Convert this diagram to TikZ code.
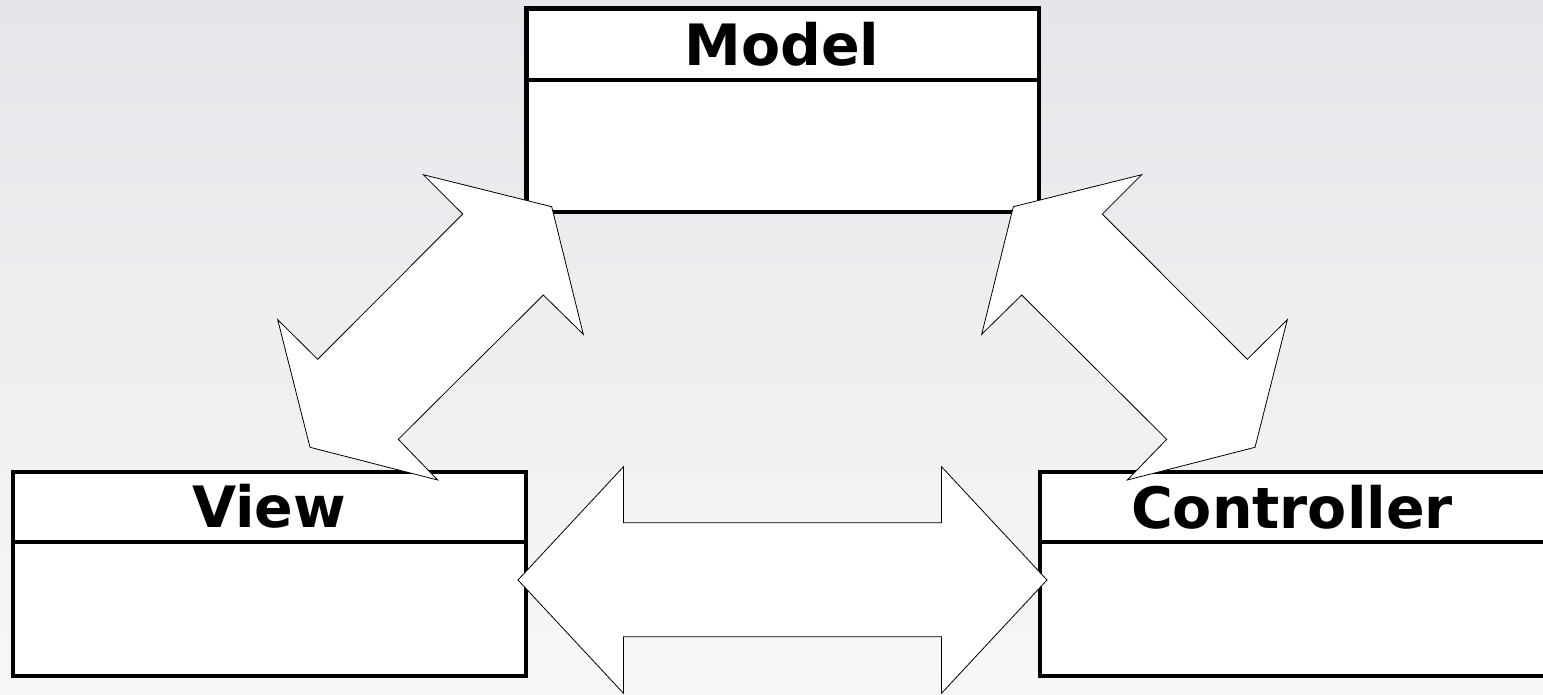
\documentclass[tikz,border=0pt]{standalone}
\usepackage{fontspec}
\setsansfont{DejaVu Sans}
\definecolor{bgtop}{HTML}{E5E6E9}
\definecolor{bgbot}{HTML}{F6F7F8}
\tikzset{
  umlbox/.style={draw=black, fill=white, line width=4.5pt, rectangle, inner sep=0pt, outer sep=0pt},
  divider/.style={draw=black, line width=4.5pt},
  titletext/.style={inner sep=0pt, anchor=base, text=black, font=\sffamily\bfseries\fontsize{57}{60}\selectfont},
  blockarrow/.style={draw=black, fill=white, line width=0.8pt, line join=miter}
}
\begin{document}
\begin{tikzpicture}[x=1pt,y=-1pt]
\useasboundingbox (0,0) rectangle (1543,694);
\shade[top color=bgtop, bottom color=bgbot] (0,0) rectangle (1543,694);

% boxes
\node[umlbox, minimum width=512.5pt, minimum height=203.5pt] (model) at (782.5,110.25) {};
\draw[divider] ([yshift=-71.5pt]model.north west) -- ([yshift=-71.5pt]model.north east);
\node[titletext] (modeltitle) at (782,65) {Model};

\node[umlbox, minimum width=513pt, minimum height=204pt] (view) at (269.5,574) {};
\draw[divider] ([yshift=-70pt]view.north west) -- ([yshift=-70pt]view.north east);
\node[titletext] (viewtitle) at (269,527.5) {View};

\node[umlbox, minimum width=513pt, minimum height=204pt] (controller) at (1296.5,574) {};
\draw[divider] ([yshift=-70pt]controller.north west) -- ([yshift=-70pt]controller.north east);
\node[titletext] (controllertitle) at (1292,528) {Controller};

% block arrows
\path[blockarrow] (551.7,206.7) -- (583.3,334.3) -- (543.3,295) -- (398.3,439.3) -- (437.7,480)
  -- (310,447.3) -- (277.7,319.7) -- (317.7,359.3) -- (462.7,214) -- (423.3,174.7) -- cycle;
\path[blockarrow] (1013.3,206.7) -- (981.7,334.3) -- (1021.7,295) -- (1166.7,439.3) -- (1127.3,480)
  -- (1255,447.3) -- (1287.3,319.7) -- (1247.3,359.3) -- (1102.3,214) -- (1141.7,174.7) -- cycle;
\path[blockarrow] (518,580) -- (623.5,466.7) -- (623.5,522.7) -- (941.5,522.7) -- (941.5,466.7)
  -- (1047,580) -- (941.5,693.3) -- (941.5,636.7) -- (623.5,636.7) -- (623.5,693.3) -- cycle;
\end{tikzpicture}
\end{document}
